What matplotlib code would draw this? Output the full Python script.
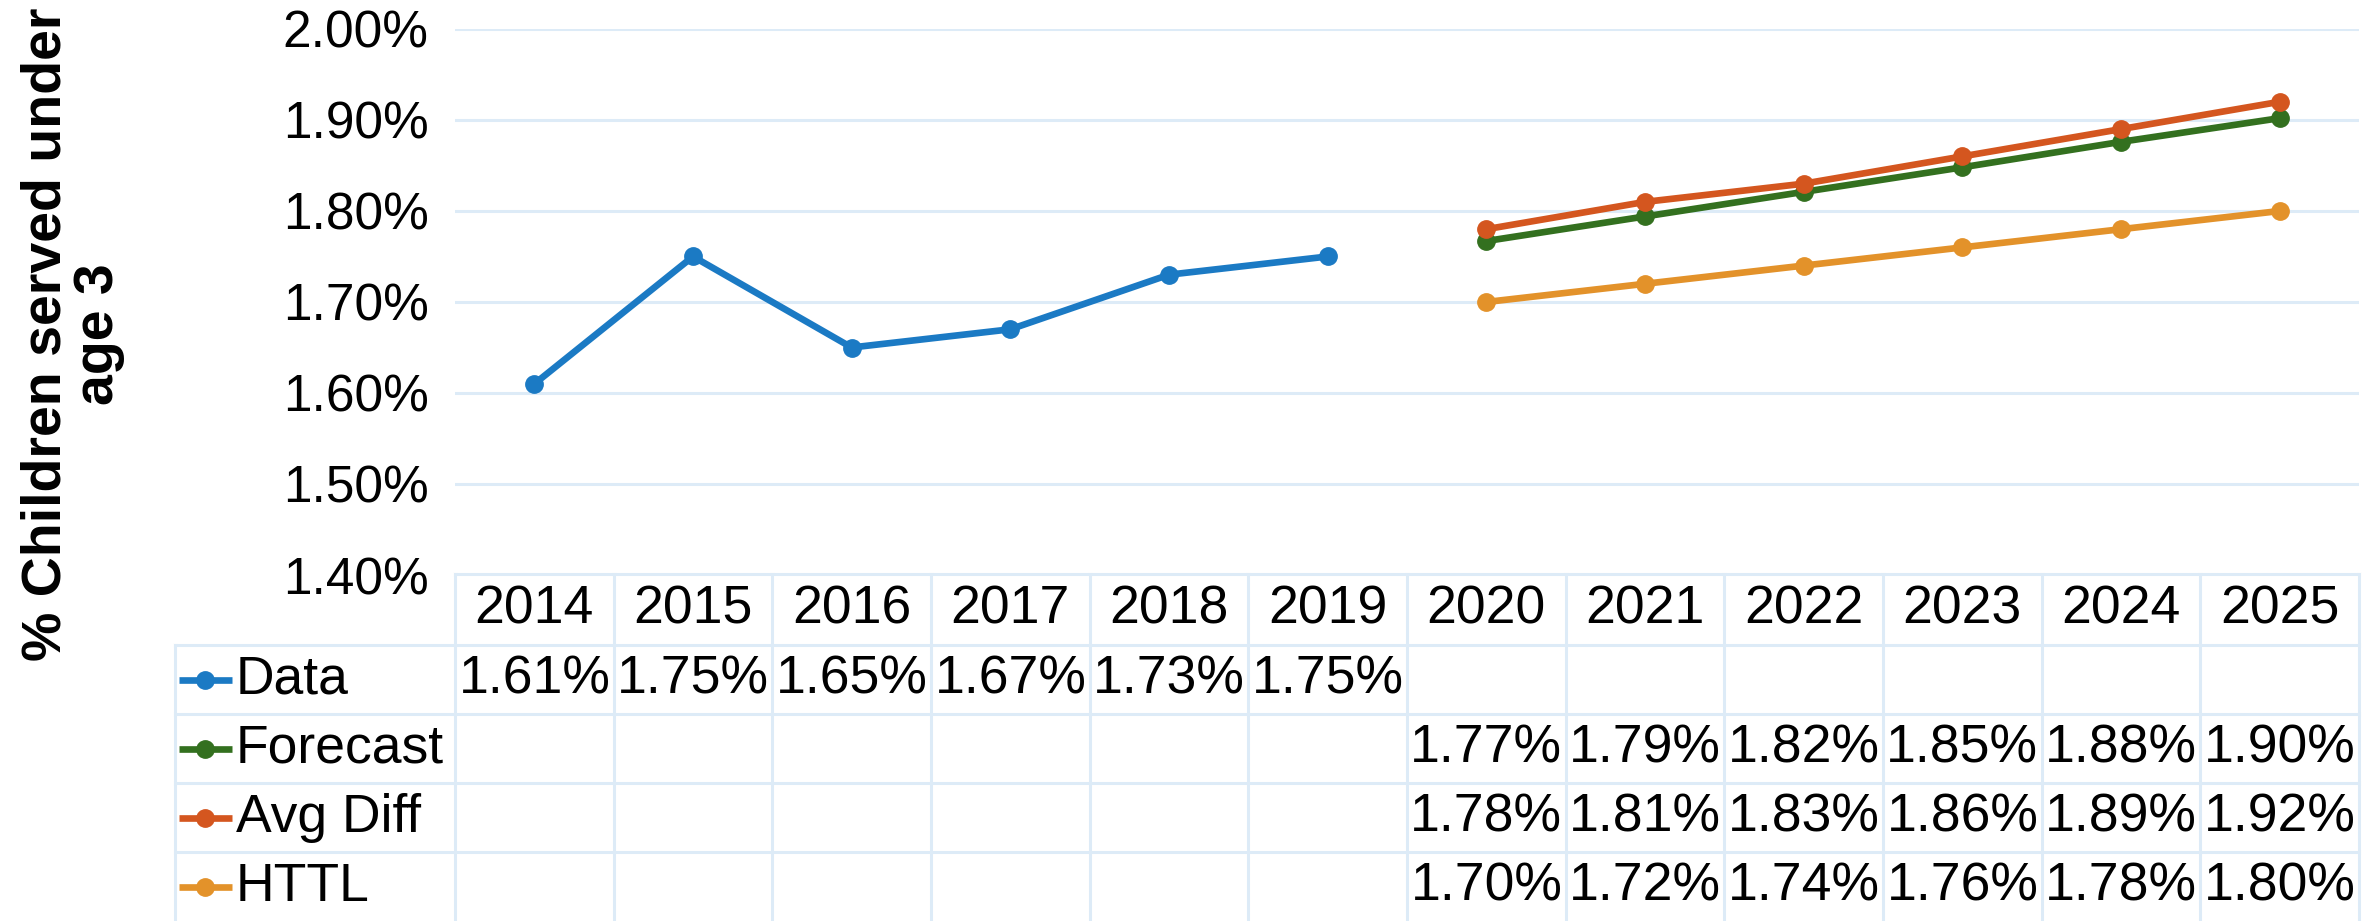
import matplotlib
matplotlib.use("Agg")
import matplotlib.pyplot as plt
import numpy as np
from matplotlib.transforms import blended_transform_factory
from matplotlib.lines import Line2D

plt.rcParams['font.family'] = ['Liberation Sans', 'DejaVu Sans']

years = ["2014", "2015", "2016", "2017", "2018", "2019",
         "2020", "2021", "2022", "2023", "2024", "2025"]
data_vals = [1.61, 1.75, 1.65, 1.67, 1.73, 1.75, None, None, None, None, None, None]
forecast_vals = [None] * 6 + [1.767, 1.794, 1.821, 1.848, 1.876, 1.902]
avgdiff_vals = [None] * 6 + [1.780, 1.810, 1.830, 1.860, 1.890, 1.920]
httl_vals = [None] * 6 + [1.700, 1.720, 1.740, 1.760, 1.780, 1.800]
series_names = ["Data", "Forecast", "Avg Diff", "HTTL"]
series_colors = ["#1B7AC4", "#33701F", "#D4561F", "#E3922A"]
yticks = [1.40, 1.50, 1.60, 1.70, 1.80, 1.90, 2.00]

W, H = 2379, 921
fig = plt.figure(figsize=(W / 100, H / 100), dpi=100)

def fx(px):
    return px / W

def fy(py):
    return 1 - py / H

left_px, right_px, top_px, bot_px = 455, 2359, 29, 575
ax = fig.add_axes([fx(left_px), fy(bot_px), fx(right_px - left_px), (bot_px - top_px) / H])
ax.set_xlim(-0.5, 11.5)
ax.set_ylim(1.40, 2.00)
for s in ax.spines.values():
    s.set_visible(False)
ax.set_xticks([])
ax.set_yticks(yticks)
ax.set_yticklabels([f"{v:.2f}%" for v in yticks], fontsize=37)
ax.tick_params(axis='y', length=0, pad=19)
grid_col = "#DDEBF7"
for v in yticks[1:]:
    ax.axhline(v, color=grid_col, lw=2.2, zorder=0)

LW = 4.8
MS = 12.5
x = np.arange(len(years))
all_series = [data_vals, forecast_vals, avgdiff_vals, httl_vals]
for vals, col in zip(all_series, series_colors):
    arr = np.array([np.nan if v is None else v for v in vals], dtype=float)
    ax.plot(x, arr, color=col, lw=LW, marker='o', markersize=MS, zorder=3)

# Table
tr = blended_transform_factory(ax.transData, fig.transFigure)
col_w_px = (right_px - left_px) / 12.0
leg_left_px = 175
leg_left_x = -0.5 - (left_px - leg_left_px) / col_w_px
rows_px = [574, 645, 714, 783, 852, 921]
rows = [fy(p) for p in rows_px]

fig.add_artist(Line2D([-0.5, 11.5], [rows[0], rows[0]], transform=tr, color=grid_col, lw=2.2))
for r in rows[1:5]:
    fig.add_artist(Line2D([leg_left_x, 11.5], [r, r], transform=tr, color=grid_col, lw=2.2))
for i in range(13):
    xv = -0.5 + i
    fig.add_artist(Line2D([xv, xv], [rows[0], rows[5]], transform=tr, color=grid_col, lw=2.2))
fig.add_artist(Line2D([leg_left_x, leg_left_x], [rows[1], rows[5]], transform=tr, color=grid_col, lw=2.2))

TFS = 38.5
for i, yr in enumerate(years):
    fig.text(i, (rows[0] + rows[1]) / 2, yr, transform=tr, ha='center', va='center', fontsize=TFS)

for k, (name, vals, col) in enumerate(zip(series_names, all_series, series_colors)):
    yc = (rows[k + 1] + rows[k + 2]) / 2
    fig.add_artist(Line2D([fx(179), fx(232)], [yc, yc], color=col, lw=LW, solid_capstyle='butt'))
    fig.add_artist(Line2D([fx(205.5)], [yc], color=col, marker='o', markersize=MS, lw=0))
    fig.text(fx(236), yc, name, ha='left', va='center', fontsize=TFS)
    for i, v in enumerate(vals):
        if v is not None:
            fig.text(i, yc, f"{v:.2f}%", transform=tr, ha='center', va='center', fontsize=TFS)

fig.text(0.0305, 0.637, "% Children served under\nage 3", rotation=90, ha='center', va='center',
         multialignment='center', fontsize=40, fontweight='bold', linespacing=1.0)

fig.savefig("out.png", dpi=100)
